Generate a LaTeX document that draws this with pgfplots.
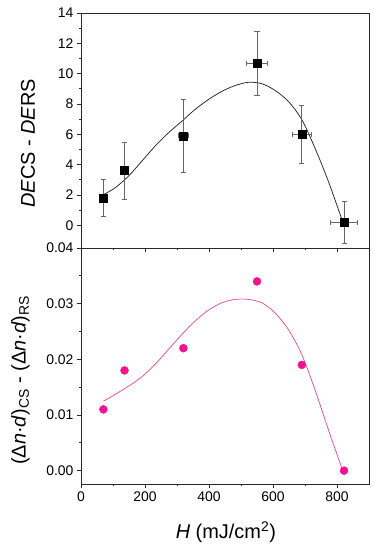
\documentclass[border=0pt]{standalone}
\usepackage{fontspec}
\setmainfont{Liberation Sans}
\usepackage{pgfplots}
\pgfplotsset{compat=1.18}
\usepackage{pgfplotstable}
\definecolor{dpink}{RGB}{238,20,140}
\definecolor{lpink}{RGB}{228,70,150}
\definecolor{frame}{RGB}{40,40,40}

\pgfplotstableread{
x y ex ey
70 1.8 0 1.2
136 3.6 0 1.9
320 5.9 15 2.4
550 10.7 33 2.1
690 6.0 30 1.9
822 0.2 42 1.4
}\tabDE

\pgfplotstableread{
x y
70 2.02
106 2.46
148 3.23
190 4.22
231 5.21
273 6.09
315 6.86
356 7.63
398 8.29
440 8.83
481 9.21
523 9.43
565 9.34
606 8.90
648 8.17
690 6.97
731 5.10
773 2.90
820 0.10
}\fitDE

\pgfplotstableread{
x y
70 0.011
136 0.018
320 0.022
550 0.034
690 0.019
822 0.000
}\tabDN

\pgfplotstableread{
x y
70 0.01246
106 0.01367
148 0.01516
190 0.01685
231 0.01906
273 0.02176
315 0.02446
356 0.02686
398 0.02883
440 0.03016
481 0.03076
523 0.03076
565 0.03016
606 0.02836
648 0.02536
690 0.02086
731 0.01457
773 0.00737
815 0.00048
}\fitDN

\pgfplotsset{
  panel/.style={
    scale only axis, width=288bp,
    xmin=0, xmax=900,
    axis line style={frame, line width=0.9bp},
    tick style={frame, line width=0.8bp},
    tick align=outside,
    xtick pos=bottom, ytick pos=left,
    major tick length=4bp, minor tick length=2bp,
    minor tick num=1,
    xtick={0,200,400,600,800},
    tick label style={font=\fontsize{14}{14}\selectfont},
    /pgf/number format/assume math mode=true,
    label style={font=\fontsize{20}{20}\selectfont},
    clip=false,
  }
}

\begin{document}
\begin{tikzpicture}
\path[use as bounding box] (-81bp,-66bp) rectangle (293bp,484bp);
\begin{axis}[panel, at={(0,0)}, anchor=south west, height=236bp,
  ymin=-0.0024, ymax=0.04,
  ytick={0,0.01,0.02,0.03,0.04},
  yticklabel style={/pgf/number format/fixed, /pgf/number format/fixed zerofill, /pgf/number format/precision=2},
  scaled y ticks=false,
  xlabel={\textit{H} (mJ/cm\textsuperscript{2})},
  xlabel style={at={(axis description cs:0.503,-0.233)}, anchor=base},
  ylabel={(Δ\textit{n}·\textit{d})\textsubscript{CS} - (Δ\textit{n}·\textit{d})\textsubscript{RS}},
  ylabel style={at={(axis description cs:-0.21,0.44)}, anchor=center},
]
\addplot[lpink, line width=0.7bp, smooth, tension=0.5, no markers] table[x=x,y=y] {\fitDN};
\addplot[only marks, mark=*, mark size=4bp, draw=dpink, fill=dpink] table[x=x,y=y] {\tabDN};
\end{axis}
\begin{axis}[panel, at={(0,236bp)}, anchor=south west, height=235bp,
  ymin=-1.5, ymax=14,
  ytick={0,2,4,6,8,10,12,14},
  xticklabels={},
  ylabel={\textit{DE}CS - \textit{DE}RS},
  ylabel style={at={(axis description cs:-0.184,0.445)}, anchor=center},
]
\addplot[black!85, line width=0.75bp, smooth, tension=0.5, no markers] table[x=x,y=y] {\fitDE};
\addplot[only marks, mark=square*, mark size=4bp, black,
  error bars/.cd, x dir=both, y dir=both, x explicit, y explicit,
  error bar style={black!60, line width=0.7bp},
  error mark options={black!60, line width=0.7bp, mark size=2.5bp, rotate=90}]
  table[x=x,y=y,x error=ex,y error=ey] {\tabDE};
\end{axis}
\end{tikzpicture}
\end{document}
